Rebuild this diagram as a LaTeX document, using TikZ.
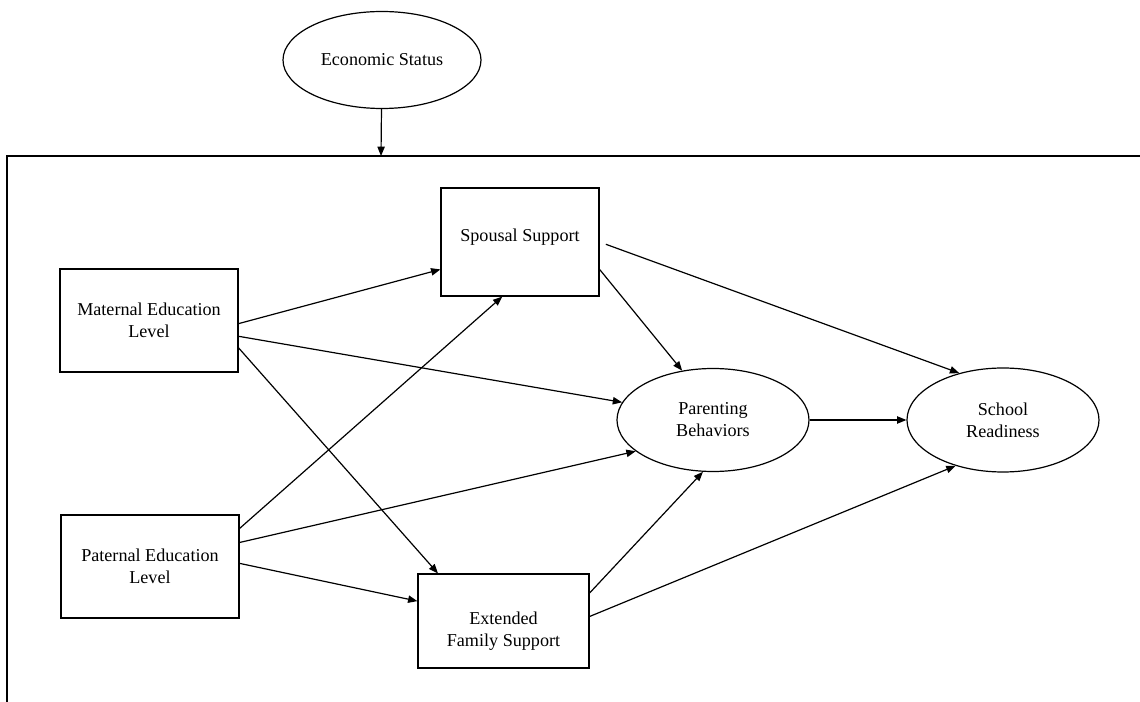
\documentclass[tikz,border=0pt]{standalone}
\usepackage{fontspec}
\setmainfont{Liberation Serif}
\usetikzlibrary{shapes.geometric,arrows.meta}
\begin{document}
\begin{tikzpicture}[x=0.75pt,y=-0.75pt,->,>={Triangle[length=7pt,width=5.5pt]},line width=0.9pt]
        \tikzstyle{factor}=[ellipse,draw,inner sep=0pt,align=center,font=\fontsize{13.6}{16.5}\selectfont]
        \tikzstyle{box}=[rectangle,draw,inner sep=0pt,align=center,font=\fontsize{13.6}{16.5}\selectfont]
        \tikzstyle{edge}=[line width=0.9pt]
        \useasboundingbox (0,0) rectangle (1140,702);
       \begin{scope}
         \node [factor,minimum width=148.5pt,minimum height=72.75pt] (eco) at (382,60) {Economic Status};
         \coordinate (frame) at (381,156);
         \draw[-] (1140,156) -- (7,156) -- (7,702);

         \node [box,minimum width=133.5pt,minimum height=77.25pt] (mat) at (149,320.5) {Maternal Education\\Level};
         \node [box,minimum width=133.5pt,minimum height=77.25pt] (pat) at (150,566.5) {Paternal Education\\Level};
         \node [box,minimum width=118.5pt,minimum height=81pt,
                label={[name=spT,font=\fontsize{13.6}{16.5}\selectfont,yshift=3.5pt]center:Spousal Support}] (sp) at (520,242) {};
         \node [box,minimum width=128.25pt,minimum height=70.5pt,
                label={[name=extT,align=center,font=\fontsize{13.6}{16.5}\selectfont,yshift=-7.5pt]center:Extended\\Family Support}] (ext) at (503.5,621) {};
         \node [factor,minimum width=144pt,minimum height=77.25pt] (par) at (713,420) {Parenting\\Behaviors};
         \node [factor,minimum width=144pt,minimum height=78pt] (sch) at (1003,420) {School\\Readiness};

         \path[edge] (eco) edge (frame);

         \path[edge] (mat.-2) edge (sp.199);
         \path[edge] (mat.-10) edge (par.169);
         \path[edge] (mat.-17) edge (ext.144);

         \path[edge] (pat.23) edge (sp.252);
         \path[edge] (pat.15) edge (par.202);
         \path[edge] (pat.2) edge (ext.167);

         \path[edge] (sp.-19) edge (par.122);
         \path[edge] (sp.east) edge [shorten <=5pt] (sch.133);

         \path[edge] (par) edge (sch);

         \path[edge] (ext.18) edge (par.259);
         \path[edge] (ext.3) edge (sch.224);
        \end{scope}
      \end{tikzpicture}
\end{document}
